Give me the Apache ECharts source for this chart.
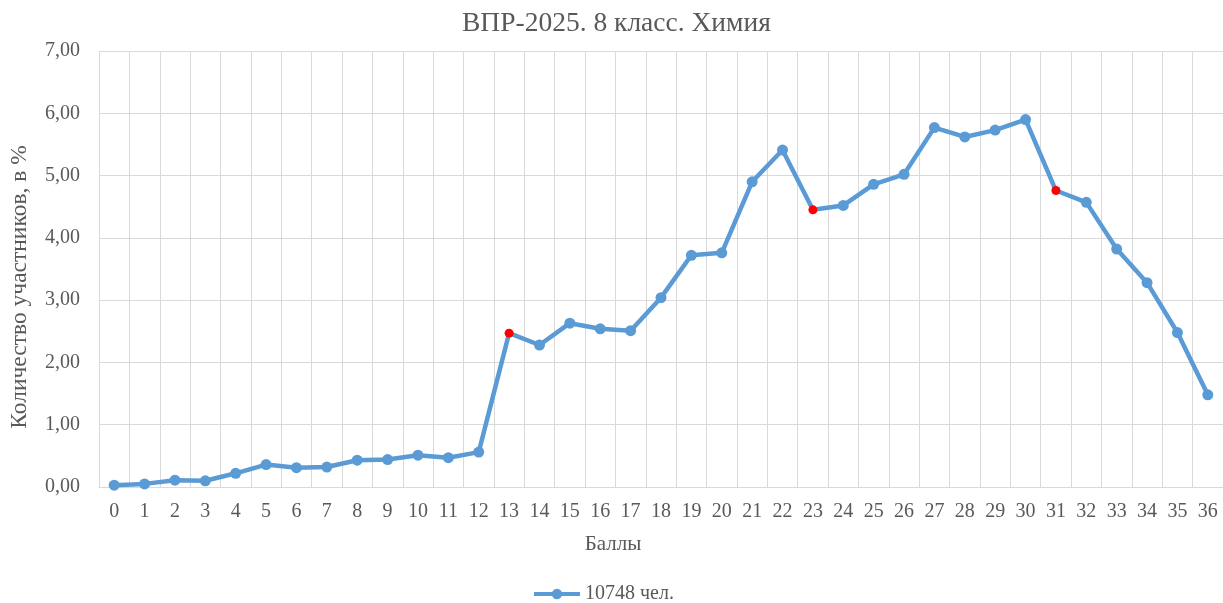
<!DOCTYPE html>
<html>
<head>
<meta charset="utf-8">
<script src="https://cdn.jsdelivr.net/npm/echarts@6/dist/echarts.min.js"></script>
<style>html,body{margin:0;padding:0;background:#fff}#c{width:1223px;height:603px}</style>
</head>
<body>
<div id="c"></div>
<script>
const titleText = 'ВПР-2025. 8 класс. Химия';
const seriesName = '10748 чел.';
const xName = 'Баллы';
const yName = 'Количество участников, в %';
const categories = ['0','1','2','3','4','5','6','7','8','9','10','11','12','13','14','15','16','17','18','19','20','21','22','23','24','25','26','27','28','29','30','31','32','33','34','35','36'];
const values = [0.03,0.05,0.11,0.10,0.22,0.36,0.31,0.32,0.43,0.44,0.51,0.47,0.56,2.47,2.28,2.63,2.54,2.51,3.04,3.72,3.76,4.90,5.41,4.45,4.52,4.86,5.02,5.77,5.62,5.73,5.90,4.76,4.57,3.82,3.28,2.48,1.48];
const highlighted = [13, 23, 31];

const font = '"Liberation Serif","Times New Roman",serif';
const blue = '#5B9BD5';
const grey = '#595959';

const data = values.map((v, i) => highlighted.includes(i)
  ? {value: v, symbolSize: 9, itemStyle: {color: '#FF0000', borderWidth: 0}}
  : v);

const chart = echarts.init(document.getElementById('c'));
chart.setOption({
  animation: false,
  backgroundColor: '#fff',
  title: {text: titleText, left: 457, top: 5,
    textStyle: {fontFamily: font, fontSize: 27.5, fontWeight: 'normal', color: grey}},
  legend: {data: [seriesName], left: 527, top: 579, itemWidth: 46, itemHeight: 13, itemGap: 5,
    lineStyle: {width: 4},
    textStyle: {fontFamily: font, fontSize: 20, color: grey}},
  grid: {left: 99, right: 0, top: 51, bottom: 116, containLabel: false, outerBoundsMode: 'none'},
  xAxis: {type: 'category', data: categories, boundaryGap: true,
    name: xName, nameLocation: 'middle', nameGap: 47,
    nameTextStyle: {fontFamily: font, fontSize: 21, color: grey, padding: [0, 96, 0, 0]},
    axisLine: {show: true, lineStyle: {color: '#D9D9D9', width: 1}},
    axisTick: {show: false},
    axisLabel: {fontFamily: font, fontSize: 20, color: grey, margin: 15, interval: 0},
    splitLine: {show: true, interval: 0, lineStyle: {color: '#D9D9D9', width: 1}}},
  yAxis: {type: 'value', min: 0, max: 7, interval: 1,
    name: yName, nameLocation: 'middle', nameGap: 67,
    nameTextStyle: {fontFamily: font, fontSize: 23.5, color: grey, padding: [0, 36, 0, 0]},
    axisLine: {show: false}, axisTick: {show: false},
    axisLabel: {fontFamily: font, fontSize: 20, color: grey, margin: 19,
      formatter: v => v.toFixed(2).replace('.', ',')},
    splitLine: {lineStyle: {color: '#D9D9D9', width: 1}}},
  series: [{name: seriesName, type: 'line', data: data,
    symbol: 'circle', symbolSize: 11,
    lineStyle: {color: blue, width: 4.5},
    itemStyle: {color: blue}}]
});
</script>
</body>
</html>
